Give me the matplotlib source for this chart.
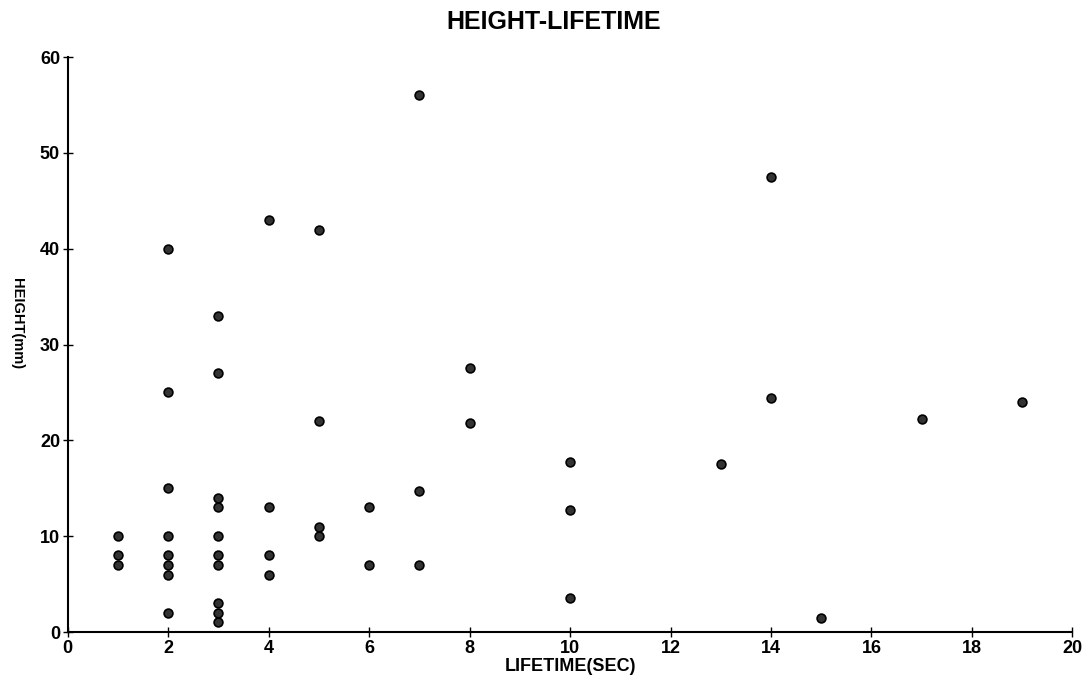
import matplotlib.pyplot as plt

plt.rcParams['font.family'] = ['Liberation Sans', 'DejaVu Sans']
plt.rcParams['font.weight'] = 'bold'

# lifetime (sec) and height (mm) of each event
lifetime = [1, 1, 1,
            2, 2, 2, 2, 2, 2, 2, 2,
            3, 3, 3, 3, 3, 3, 3, 3, 3, 3,
            4, 4, 4, 4,
            5, 5, 5, 5,
            6, 6,
            7, 7, 7,
            8, 8,
            10, 10, 10,
            13,
            14, 14,
            15,
            17,
            19]
height = [10, 8, 7,
          40, 25, 15, 10, 8, 7, 6, 2,
          33, 27, 14, 13, 10, 8, 7, 3, 2, 1,
          43, 13, 8, 6,
          42, 22, 11, 10,
          13, 7,
          56, 14.7, 7,
          27.6, 21.8,
          17.7, 12.7, 3.6,
          17.5,
          47.5, 24.4,
          1.5,
          22.2,
          24.0]

x_ticks = [0, 2, 4, 6, 8, 10, 12, 14, 16, 18, 20]
y_ticks = [0, 10, 20, 30, 40, 50, 60]

fig = plt.figure(figsize=(10.91, 6.87), dpi=100)
ax = fig.add_axes([0.062, 0.080, 0.921, 0.837])

ax.scatter(lifetime, height, s=40, c='#333333', edgecolors='black',
           linewidths=1.2, zorder=3, clip_on=False)

ax.set_xlim(0, 20)
ax.set_ylim(0, 60)
ax.set_xticks(x_ticks)
ax.set_yticks(y_ticks)
ax.tick_params(direction='inout', length=7, width=1, labelsize=13, pad=2)
for lab in ax.get_xticklabels() + ax.get_yticklabels():
    lab.set_fontweight('bold')

ax.spines['top'].set_visible(False)
ax.spines['right'].set_visible(False)
ax.spines['left'].set_linewidth(1.5)
ax.spines['bottom'].set_linewidth(1.5)

ax.set_xlabel('LIFETIME(SEC)', fontsize=13, fontweight='bold', labelpad=1)
ax.set_ylabel('HEIGHT(mm)', fontsize=10.5, fontweight='bold',
              rotation=270, va='center', ha='center')
ax.yaxis.set_label_coords(-0.050, 0.536)
ax.set_title('HEIGHT-LIFETIME', fontsize=18, fontweight='bold',
             x=0.484, pad=20)

fig.savefig('out.png', dpi=100)
